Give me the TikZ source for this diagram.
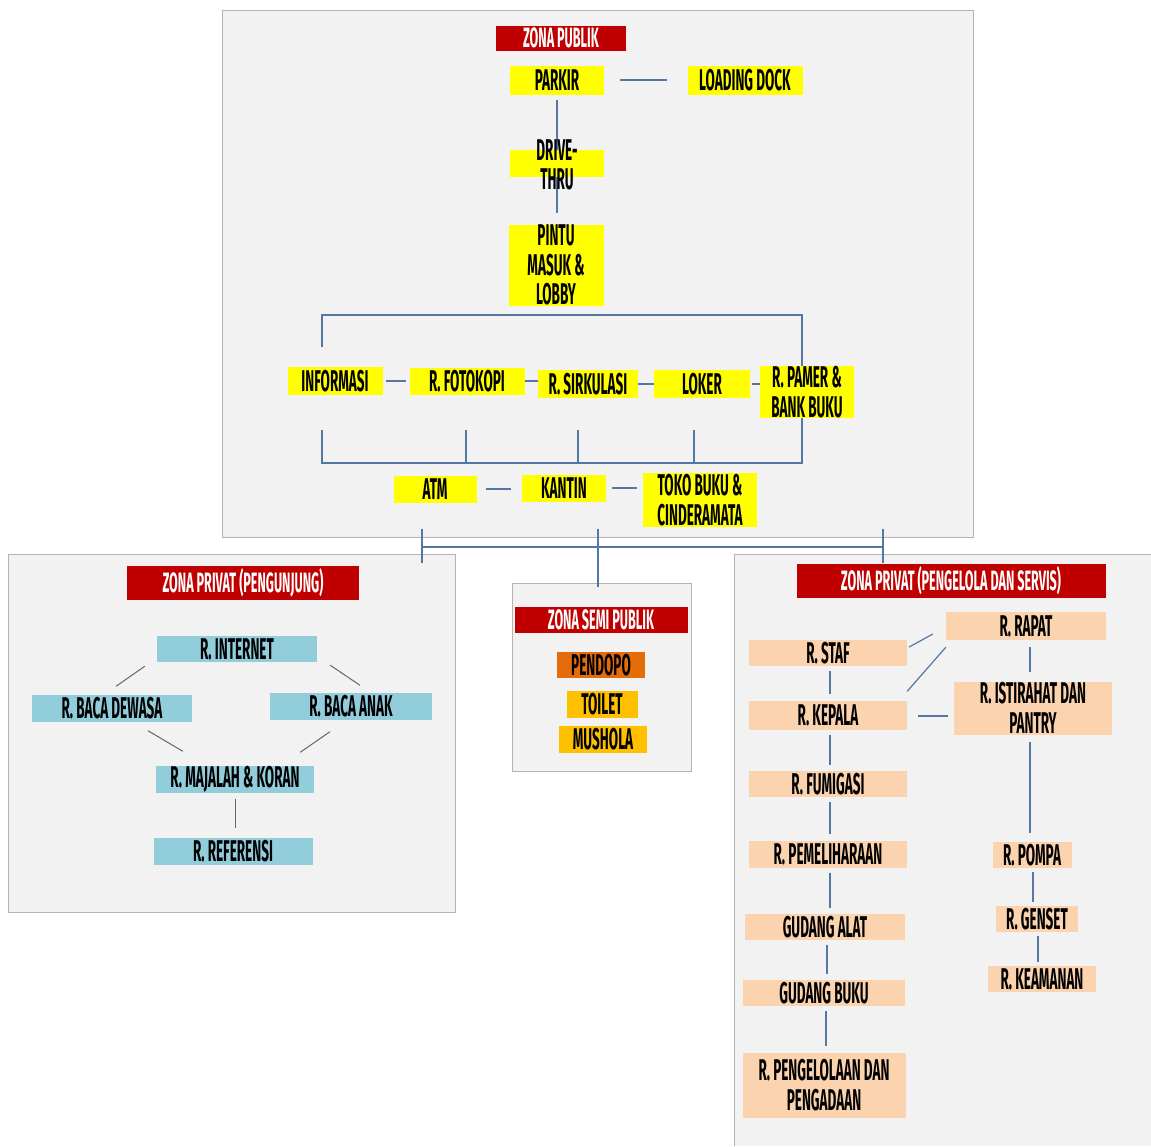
\documentclass[tikz,border=0pt]{standalone}
\usepackage{fontspec}
\newfontfamily\condfont{Fira Sans}[FakeStretch=0.45]
\definecolor{zred}{HTML}{C00000}
\definecolor{zpub}{HTML}{FFFF00}
\definecolor{zvis}{HTML}{92CDDC}
\definecolor{zsrv}{HTML}{FBD3AE}
\definecolor{zdark}{HTML}{E46C0A}
\definecolor{zsemi}{HTML}{FFC000}
\definecolor{panelbg}{HTML}{F2F2F2}
\definecolor{panelline}{HTML}{B4B4B4}
\definecolor{linkblue}{HTML}{5577A3}
\begin{document}
\begin{tikzpicture}[x=1pt, y=-1pt,
    box/.style={rectangle, inner sep=0pt, minimum height=27pt, align=center,
        font=\condfont\bfseries\fontsize{30}{29.5}\selectfont},
    pub/.style={box, fill=zpub},
    vis/.style={box, fill=zvis},
    srv/.style={box, fill=zsrv},
    zona/.style={box, fill=zred, text=white,
        font=\condfont\bfseries\fontsize{28}{28}\selectfont},
    panel/.style={fill=panelbg, draw=panelline, line width=0.8pt},
    link/.style={draw=linkblue, line width=1.2pt},
    glink/.style={draw=gray!80!black, line width=1pt}]
    \fill[white] (0,0) rectangle (1151,1146);
    \useasboundingbox (0,0) rectangle (1151,1146);
    \draw[panel] (222,10) rectangle (973,537);
    \draw[panel] (8,554) rectangle (455,912);
    \draw[panel] (512,583) rectangle (691,771);
    \fill[panelbg] (734,554) rectangle (1151,1146);
    \draw[panelline, line width=0.8pt] (734,1146) -- (734,554) -- (1151,554);

    \coordinate (jl) at (422,547);
    \coordinate (jr) at (883,547);
    \draw[link] (jl) -- (jr);
    \foreach \n/\x/\b in {l/422/563, m/598/587, r/883/563}{
        \coordinate (j\n a) at (\x,529);
        \coordinate (j\n b) at (\x,\b);
        \draw[link] (j\n a) -- (j\n b);
    };

    \node[zona, minimum width=130, minimum height=25] (zpub) at (561,38) {ZONA PUBLIK};
    \node[pub, minimum width=94, minimum height=29] (parkir) at (557,80) {PARKIR};
    \node[pub, minimum width=115, minimum height=29] (dock) at (745,80) {LOADING DOCK};
    \node[pub, minimum width=95, minimum height=81] (pintu) at (556,265) {PINTU\\MASUK \&\\LOBBY};
    \draw[link, shorten <=5pt, shorten >=11pt] (parkir.south) -- (parkir.south |- pintu.north);
    \node[pub, minimum width=94] (drive) at (557,163) {};
    \node[box] (drivetxt) at (557,165) {DRIVE-\\THRU};
    \draw[link, shorten <=16pt, shorten >=20pt] (parkir.east) -- (dock.west);

    \node[pub, minimum width=95, minimum height=28] (info) at (335,381) {INFORMASI};
    \node[pub, minimum width=115, minimum height=27] (fotokopi) at (467,381) {R. FOTOKOPI};
    \node[pub, minimum width=100, minimum height=28] (sirkulasi) at (588,384) {R. SIRKULASI};
    \node[pub, minimum width=96, minimum height=28] (loker) at (702,384) {LOKER};
    \node[pub, minimum width=94, minimum height=52] (pamer) at (807,392) {R. PAMER \&\\BANK BUKU};
    \draw[link, shorten <=3pt, shorten >=3pt] (info.east) -- (fotokopi.west);
    \draw[link] (fotokopi.east) -- (fotokopi.east -| sirkulasi.west);
    \draw[link] (sirkulasi.east) -- (loker.west);
    \draw[link, shorten <=2pt] (loker.east) -- (loker.east -| pamer.west);

    \coordinate (infoup) at (322,347);
    \coordinate (btr) at (802,315);
    \draw[link] (infoup) |- (btr) -- (pamer.north -| btr);
    \coordinate (bbl) at (322,463);
    \coordinate (bbr) at (802,463);
    \draw[link] (pamer.south -| bbr) -- (bbr) -- (bbl) -- ++(0,-33);
    \foreach \n/\x in {a/466, b/578, c/694}{
        \coordinate (d\n) at (\x,430);
        \draw[link] (d\n) -- (d\n |- bbl);
    };

    \node[pub, minimum width=83] (atm) at (435,489) {ATM};
    \node[pub, minimum width=84] (kantin) at (564,488) {KANTIN};
    \node[pub, minimum width=114, minimum height=54] (toko) at (700,500) {TOKO BUKU \&\\CINDERAMATA};
    \draw[link, shorten <=9pt, shorten >=11pt] (atm.east) -- (atm.east -| kantin.west);
    \draw[link, shorten <=6pt, shorten >=6pt] (kantin.east) -- (kantin.east -| toko.west);

    \node[zona, minimum width=232, minimum height=34] (zvis) at (243,583) {ZONA PRIVAT (PENGUNJUNG)};
    \node[vis, minimum width=160, minimum height=26] (internet) at (237,649) {R. INTERNET};
    \node[vis, minimum width=160] (dewasa) at (112,708) {R. BACA DEWASA};
    \node[vis, minimum width=162] (anak) at (351,706) {R. BACA ANAK};
    \node[vis, minimum width=158] (majalah) at (235,779) {R. MAJALAH \& KORAN};
    \node[vis, minimum width=159] (referensi) at (233,851) {R. REFERENSI};
    \draw[glink] ([xshift=-12pt, yshift=-4pt]internet.south west) -- ([xshift=4pt, yshift=8pt]dewasa.north);
    \draw[glink] ([xshift=13pt, yshift=-3pt]internet.south east) -- ([xshift=9pt, yshift=7pt]anak.north);
    \draw[glink] ([xshift=36pt, yshift=-9pt]dewasa.south) -- ([xshift=27pt, yshift=14pt]majalah.north west);
    \draw[glink] ([xshift=-21pt, yshift=-12pt]anak.south) -- ([xshift=-14pt, yshift=13pt]majalah.north east);
    \draw[glink, shorten <=6pt, shorten >=9pt] (majalah.south) -- (majalah.south |- referensi.north);

    \node[zona, minimum width=173, minimum height=26] (zsemi) at (601,620) {ZONA SEMI PUBLIK};
    \node[box, fill=zdark, minimum width=88, minimum height=26] (pendopo) at (601,665) {PENDOPO};
    \node[box, fill=zsemi, minimum width=71] (toilet) at (602,704) {TOILET};
    \node[box, fill=zsemi, minimum width=88] (mushola) at (603,739) {MUSHOLA};

    \node[zona, minimum width=309, minimum height=34] (zsrv) at (951,581) {ZONA PRIVAT (PENGELOLA DAN SERVIS)};
    \node[srv, minimum width=160, minimum height=28] (rapat) at (1026,626) {R. RAPAT};
    \node[srv, minimum width=158, minimum height=26] (staf) at (828,653) {R. STAF};
    \node[srv, minimum width=158, minimum height=53] (istirahat) at (1033,708) {R. ISTIRAHAT DAN\\PANTRY};
    \node[srv, minimum width=158, minimum height=29] (kepala) at (828,715) {R. KEPALA};
    \node[srv, minimum width=158, minimum height=26] (fumigasi) at (828,784) {R. FUMIGASI};
    \node[srv, minimum width=158] (pemeliharaan) at (828,854) {R. PEMELIHARAAN};
    \node[srv, minimum width=160, minimum height=26] (gudangalat) at (825,927) {GUDANG ALAT};
    \node[srv, minimum width=162, minimum height=26] (gudangbuku) at (824,993) {GUDANG BUKU};
    \node[srv, minimum width=163, minimum height=65] (pengelolaan) at (824,1085) {R. PENGELOLAAN DAN\\PENGADAAN};
    \node[srv, minimum width=79, minimum height=26] (pompa) at (1032,855) {R. POMPA};
    \node[srv, minimum width=82, minimum height=26] (genset) at (1037,919) {R. GENSET};
    \node[srv, minimum width=108, minimum height=26] (keamanan) at (1042,979) {R. KEAMANAN};
    \foreach \a/\b in {staf/kepala, kepala/fumigasi, fumigasi/pemeliharaan,
        pemeliharaan/gudangalat, gudangalat/gudangbuku, gudangbuku/pengelolaan}{
        \draw[link, shorten <=5pt, shorten >=6pt] ([xshift=2pt]\a.south) -- ([xshift=2pt]\a.south |- \b.north);
    };
    \foreach \a/\b/\s in {rapat/istirahat/4, istirahat/pompa/-3}{
        \draw[link, shorten <=7pt, shorten >=9pt] ([xshift=\s pt]\a.south) -- ([xshift=\s pt]\a.south |- \b.north);
    };
    \foreach \a/\b in {pompa/genset, genset/keamanan}{
        \draw[link, shorten <=4pt, shorten >=4pt] ([xshift=1pt]\a.south) -- ([xshift=1pt]\a.south |- \b.north);
    };
    \draw[link, shorten <=11pt, shorten >=6pt] ([yshift=-1pt]kepala.east) -- ([yshift=-1pt]kepala.east -| istirahat.west);
    \draw[link] ([xshift=2pt, yshift=6pt]staf.east) -- ([xshift=-13pt, yshift=-8pt]rapat.west);
    \draw[link] ([yshift=9pt]kepala.north east) -- ([yshift=-7pt]rapat.south west);
\end{tikzpicture}
\end{document}
